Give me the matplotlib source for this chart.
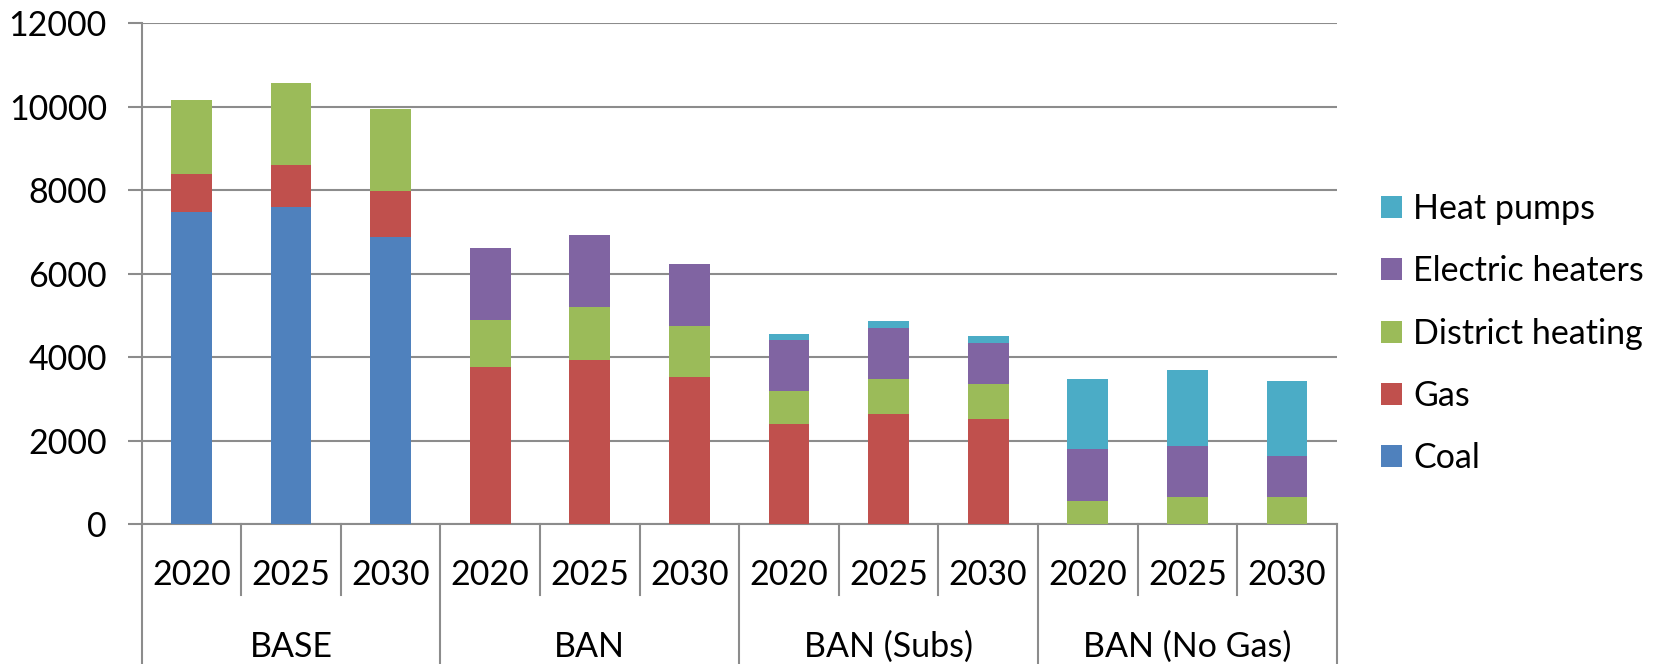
import numpy as np
import matplotlib
matplotlib.use("Agg")
import matplotlib.pyplot as plt
import matplotlib.transforms as mtransforms

plt.rcParams['font.family'] = ['Lato', 'DejaVu Sans']

# data
years = ['2020', '2025', '2030']
scenarios = ['BASE', 'BAN', 'BAN (Subs)', 'BAN (No Gas)']
coal = [7480, 7590, 6890, 0, 0, 0, 0, 0, 0, 0, 0, 0]
gas = [920, 1010, 1095, 3770, 3930, 3530, 2400, 2630, 2510, 0, 0, 0]
district = [1760, 1960, 1960, 1120, 1270, 1210, 785, 840, 840, 560, 655, 655]
electric = [0, 0, 0, 1735, 1720, 1495, 1230, 1235, 985, 1250, 1225, 985]
heatpumps = [0, 0, 0, 0, 0, 0, 150, 150, 160, 1670, 1800, 1790]

series = [('Coal', coal, '#4F81BD'),
          ('Gas', gas, '#C0504D'),
          ('District heating', district, '#9BBB59'),
          ('Electric heaters', electric, '#8064A2'),
          ('Heat pumps', heatpumps, '#4BACC6')]

grey = '#8C8C8C'
fs = 24.5

fig = plt.figure(figsize=(16.63, 6.64), dpi=100)
ax = fig.add_axes([0.0852, 0.2108, 0.8038 - 0.0852, 0.9649 - 0.2108])

x = np.arange(len(coal))
bottom = np.zeros(len(coal))
handles = []
for name, vals, col in series:
    vals = np.array(vals, dtype=float)
    b = ax.bar(x, vals, 0.41, bottom=bottom, color=col, label=name, zorder=3)
    handles.append(b)
    bottom += vals

ax.set_xlim(-0.5, len(coal) - 0.5)
ax.set_ylim(0, 12000)
ax.set_yticks(np.arange(0, 12001, 2000))
ax.yaxis.grid(True, color=grey, linewidth=1.5)
ax.set_axisbelow(True)
ax.tick_params(axis='y', length=10, width=1.5, color=grey, pad=15, labelsize=fs)
ax.set_xticks([])
for s in ['top', 'right']:
    ax.spines[s].set_visible(False)
for s in ['left', 'bottom']:
    ax.spines[s].set_color(grey)
    ax.spines[s].set_linewidth(1.5)

# two-level category axis
trans = mtransforms.blended_transform_factory(ax.transData, ax.transAxes)
for i in range(len(coal)):
    ax.text(x[i], -0.102, years[i % 3], transform=trans, ha='center', va='center', fontsize=fs)
for k in range(len(coal) + 1):
    edge = k - 0.5
    low = -0.3 if k % 3 == 0 else -0.142
    ax.plot([edge, edge], [0, low], transform=trans, color=grey, lw=1.5, clip_on=False)
for g, name in enumerate(scenarios):
    ax.text(3 * g + 1, -0.245, name, transform=trans, ha='center', va='center', fontsize=fs)

ax.legend(handles[::-1], [s[0] for s in series][::-1], loc='center left',
          bbox_to_anchor=(0.8305, 0.4976), bbox_transform=fig.transFigure,
          frameon=False, fontsize=fs, handlelength=0.62, handleheight=0.62,
          handletextpad=0.32, labelspacing=0.89, borderpad=0, borderaxespad=0)

fig.savefig('out.png', dpi=100)
